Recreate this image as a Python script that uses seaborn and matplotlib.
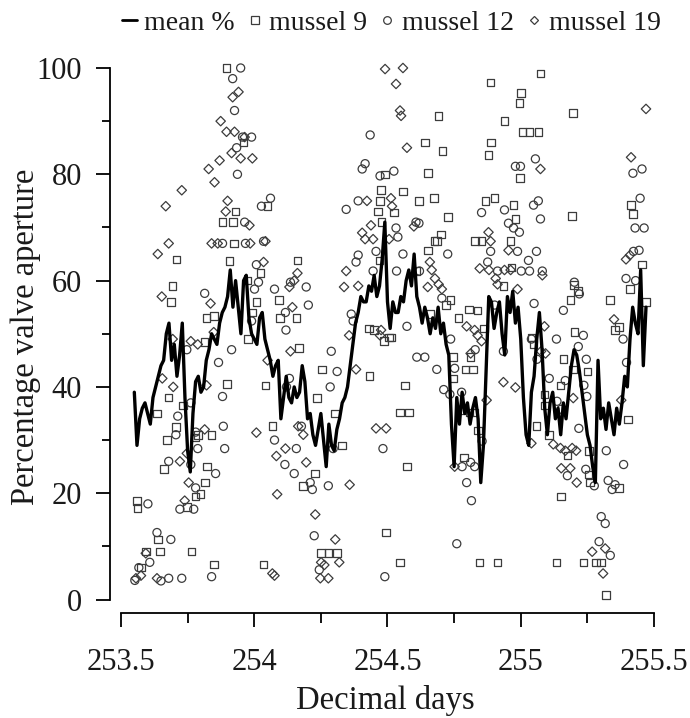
import numpy as np
import pandas as pd
import matplotlib
matplotlib.use("Agg")
import matplotlib.pyplot as plt
import seaborn as sns
from matplotlib.lines import Line2D
from matplotlib.ticker import MultipleLocator

# ---------------- data ----------------
mean_start = 253.55
mean_step = 0.01
mean_pct = [39, 29, 34, 36, 37, 35, 33, 38, 40, 42, 44, 45, 50, 52, 45, 48, 42, 46, 52, 38,
            28, 24, 35, 41, 42, 39, 40, 45, 47, 50, 49, 48, 52, 54, 55, 57, 62, 55, 60, 55,
            50, 60, 61, 53, 50, 49, 48, 53, 54, 49, 47, 45, 42, 44, 45, 34, 38, 42, 38, 37,
            40, 38, 39, 44, 41, 34, 35, 31, 29, 32, 35, 30, 25, 33, 29, 28, 32, 34, 37, 38,
            40, 44, 48, 52, 54, 57, 56, 56, 59, 58, 61, 57, 59, 64, 71, 56, 51, 56, 54, 54,
            57, 56, 60, 62, 59, 65, 57, 55, 52, 55, 53, 50, 53, 51, 55, 50, 52, 48, 46, 33,
            25, 38, 33, 39, 35, 37, 33, 36, 38, 34, 22, 29, 43, 57, 56, 51, 54, 56, 50, 46,
            57, 54, 58, 52, 55, 49, 38, 31, 29, 39, 42, 49, 54, 47, 36, 31, 37, 39, 34, 36,
            31, 37, 34, 39, 44, 47, 46, 43, 39, 35, 31, 29, 25, 22, 45, 34, 36, 32, 37, 34,
            31, 36, 33, 37, 42, 40, 49, 55, 52, 50, 62, 44, 55]

m9_day = [253.560, 253.562, 253.575, 253.593, 253.635, 253.638, 253.646, 253.661, 253.672, 253.679,
          253.687, 253.694, 253.706, 253.709, 253.732, 253.747, 253.765, 253.777, 253.780, 253.788,
          253.799, 253.814, 253.816, 253.821, 253.823, 253.840, 253.848, 253.850, 253.881, 253.896,
          253.898, 253.907, 253.920, 253.924, 253.930, 253.960, 253.975, 253.977, 253.993, 254.008,
          254.023, 254.035, 254.042, 254.050, 254.068, 254.094, 254.096, 254.158, 254.162, 254.169,
          254.184, 254.229, 254.236, 254.251, 254.255, 254.278, 254.304, 254.311, 254.330, 254.431,
          254.433, 254.450, 254.464, 254.470, 254.472, 254.476, 254.478, 254.487, 254.491, 254.495,
          254.506, 254.513, 254.524, 254.547, 254.547, 254.558, 254.565, 254.573, 254.580, 254.607,
          254.618, 254.640, 254.651, 254.653, 254.659, 254.674, 254.676, 254.685, 254.692, 254.700,
          254.707, 254.719, 254.726, 254.737, 254.745, 254.747, 254.767, 254.778, 254.786, 254.793,
          254.805, 254.807, 254.812, 254.820, 254.827, 254.829, 254.838, 254.840, 254.845, 254.853,
          254.861, 254.868, 254.879, 254.887, 254.889, 254.902, 254.913, 254.935, 254.939, 254.962,
          254.966, 254.973, 254.980, 254.995, 254.997, 255.000, 255.006, 255.033, 255.040, 255.048,
          255.059, 255.066, 255.074, 255.089, 255.092, 255.107, 255.134, 255.149, 255.151, 255.160,
          255.175, 255.186, 255.192, 255.195, 255.197, 255.200, 255.201, 255.216, 255.235, 255.250,
          255.254, 255.257, 255.261, 255.283, 255.302, 255.321, 255.336, 255.354, 255.369, 255.369,
          255.403, 255.410, 255.414, 255.421, 255.455, 255.470]
m9_pct = [18.5, 17.2, 6, 9, 35, 11.3, 9, 24.5, 30, 38,
          56, 59, 32.5, 64, 36.5, 17.4, 9, 30.5, 19.4, 31,
          19.8, 48.4, 22, 53, 25, 31, 53.3, 6.6, 71, 100,
          40.5, 63.7, 71, 67, 73, 86, 60, 49, 54, 56,
          61.4, 6.6, 40.3, 74, 32.6, 56.3, 53, 53, 63.8, 47.3,
          21.4, 23.7, 37.9, 8.7, 43.3, 8.7, 35, 8.7, 29, 51,
          42, 50.7, 73, 63.8, 75, 77, 71, 48.6, 80, 12.6,
          49.3, 49.3, 72.8, 35.2, 7, 76.8, 40.3, 25, 35.2, 61.8,
          75, 86, 80.2, 65.7, 53.7, 75.5, 67.4, 67.4, 91, 68.7,
          84.4, 55.4, 72, 56.3, 45.6, 41.6, 53, 35.6, 26.7, 43.3,
          54.6, 35.2, 45.6, 43.3, 35.2, 67.4, 54.4, 31.8, 7, 67.4,
          51, 75, 83.6, 97.3, 86, 75.5, 7, 59, 90, 67.4,
          62.5, 74.2, 71.6, 93.4, 79.3, 95.3, 88, 88, 49.3, 48,
          32.6, 88, 99, 38.6, 36.5, 30.9, 7, 40.3, 19.4, 45.2,
          27.1, 56.3, 72.1, 91.5, 43.3, 59.2, 50.3, 58, 7, 42.9,
          23.5, 28, 22, 7, 7, 0.9, 56.3, 50.7, 51.3, 21,
          33.9, 58.4, 74.2, 72.5, 63, 56]

m12_day = [253.552, 253.567, 253.601, 253.608, 253.635, 253.650, 253.679, 253.679, 253.687, 253.706,
           253.713, 253.721, 253.728, 253.747, 253.762, 253.762, 253.773, 253.780, 253.780, 253.788,
           253.814, 253.840, 253.855, 253.866, 253.881, 253.881, 253.884, 253.889, 253.915, 253.919,
           253.926, 253.934, 253.937, 253.949, 253.956, 253.964, 253.967, 253.990, 253.990, 254.001,
           254.008, 254.016, 254.027, 254.035, 254.061, 254.076, 254.076, 254.115, 254.117, 254.119,
           254.121, 254.132, 254.136, 254.150, 254.158, 254.177, 254.195, 254.203, 254.210, 254.218,
           254.225, 254.244, 254.278, 254.285, 254.289, 254.296, 254.311, 254.345, 254.364, 254.371,
           254.382, 254.390, 254.390, 254.405, 254.416, 254.435, 254.446, 254.457, 254.472, 254.483,
           254.490, 254.524, 254.532, 254.534, 254.539, 254.558, 254.573, 254.607, 254.610, 254.618,
           254.620, 254.640, 254.685, 254.704, 254.711, 254.726, 254.734, 254.737, 254.752, 254.760,
           254.778, 254.780, 254.797, 254.812, 254.815, 254.827, 254.829, 254.853, 254.855, 254.876,
           254.887, 254.902, 254.913, 254.935, 254.939, 254.954, 254.973, 254.980, 254.988, 254.995,
           254.999, 255.002, 255.029, 255.033, 255.040, 255.048, 255.050, 255.055, 255.059, 255.061,
           255.066, 255.074, 255.081, 255.107, 255.134, 255.136, 255.152, 255.160, 255.167, 255.175,
           255.201, 255.216, 255.218, 255.220, 255.235, 255.237, 255.244, 255.246, 255.248, 255.276,
           255.294, 255.302, 255.317, 255.321, 255.328, 255.336, 255.343, 255.354, 255.384, 255.386,
           255.395, 255.397, 255.421, 255.423, 255.429, 255.431, 255.444, 255.448, 255.455, 255.463]
m12_pct = [3.6, 6, 18, 7, 12.6, 3.5, 4, 26, 11.3, 31,
           34.5, 17, 4, 47, 37, 25.4, 17, 31.5, 21, 28.4,
           57.6, 4.3, 23.7, 44.6, 67, 38.2, 32.6, 28.4, 47, 98,
           92, 85, 80, 100, 87, 71, 67, 87, 52.4, 58.4,
           63, 59.7, 74, 67.4, 75.5, 58.4, 30, 25.4, 54, 50.7,
           40, 41.6, 59.7, 23.7, 28.4, 32.6, 58.8, 55.4, 22, 20.7,
           12, 5.6, 21.4, 40, 46.7, 28.4, 42.9, 73.4, 53.7, 52.4,
           63.5, 75, 64.8, 81, 82, 87.4, 61.8, 65.5, 79.7, 28.4,
           4.3, 80.6, 69.9, 61.8, 68.2, 65, 51.4, 71, 45.6, 70.8,
           61.8, 45.6, 43.3, 56.7, 39.5, 65, 38.6, 49, 43.5, 10.5,
           39, 25, 22, 25.8, 18.6, 25, 47, 72.8, 29.8, 63.5,
           65.5, 55.4, 61.8, 46.7, 73.3, 70.8, 69.9, 81.5, 65.5, 69.1,
           81.5, 61.8, 63.8, 61.8, 49, 74.2, 55.7, 82.9, 65.5, 45.2,
           75, 71.6, 61.8, 41.6, 49, 37.3, 35.8, 54.4, 41.2, 23.3,
           59.7, 47.6, 32.2, 57.5, 49.7, 40.3, 24.5, 45.2, 38.2, 21.4,
           10.9, 15.6, 14.3, 28, 22.4, 8.3, 20.7, 21.6, 49, 25.4,
           60.4, 44.6, 80.2, 65.5, 69.9, 60, 65.7, 75.5, 81, 69.9]

m19_day = [253.556, 253.575, 253.593, 253.635, 253.638, 253.653, 253.655, 253.668, 253.679, 253.694,
           253.696, 253.721, 253.728, 253.739, 253.747, 253.754, 253.762, 253.788, 253.814, 253.821,
           253.829, 253.836, 253.840, 253.848, 253.851, 253.863, 253.870, 253.874, 253.893, 253.896,
           253.900, 253.915, 253.919, 253.926, 253.941, 253.949, 253.964, 253.982, 253.985, 253.993,
           254.008, 254.035, 254.042, 254.050, 254.068, 254.076, 254.083, 254.086, 254.117, 254.132,
           254.136, 254.143, 254.150, 254.162, 254.165, 254.184, 254.195, 254.229, 254.248, 254.251,
           254.263, 254.278, 254.304, 254.319, 254.337, 254.345, 254.356, 254.358, 254.382, 254.390,
           254.405, 254.416, 254.423, 254.438, 254.446, 254.457, 254.472, 254.476, 254.491, 254.495,
           254.506, 254.513, 254.517, 254.532, 254.547, 254.551, 254.558, 254.573, 254.599, 254.651,
           254.659, 254.666, 254.678, 254.692, 254.704, 254.752, 254.797, 254.812, 254.827, 254.838,
           254.846, 254.853, 254.872, 254.879, 254.881, 254.887, 254.906, 254.913, 254.935, 254.939,
           254.954, 254.962, 254.980, 254.988, 255.040, 255.074, 255.076, 255.081, 255.089, 255.093,
           255.122, 255.149, 255.152, 255.167, 255.186, 255.193, 255.197, 255.208, 255.210, 255.268,
           255.309, 255.317, 255.350, 255.377, 255.395, 255.410, 255.414, 255.470]
m19_pct = [4, 4.5, 8.7, 4, 65, 57, 41.6, 74, 67, 49,
           40, 26, 77, 18.6, 27.5, 22, 48.6, 48, 32, 40.3,
           81, 55.7, 67, 50.3, 78.5, 67, 82.6, 90, 73, 88,
           75, 84, 94.5, 88, 95.5, 83, 87, 70.4, 67, 83,
           31.4, 63.5, 67.4, 45, 4.9, 4.5, 27, 19.8, 28.4, 58.8,
           46.7, 55, 60, 61.4, 32.6, 31, 25.8, 16, 4, 7,
           6.5, 4, 11.3, 7, 58.8, 61.8, 49.7, 21.6, 43.3, 59,
           69, 67.8, 75, 70.4, 67.8, 32.2, 49.7, 50.7, 99.8, 32.2,
           67.8, 75.5, 74, 97, 92, 91, 100, 85, 70.2, 58.8,
           63.5, 62, 60.4, 59.3, 58.4, 25, 51.4, 46.3, 50.7, 49.7,
           62.3, 48.6, 37.5, 69.1, 62, 67.4, 60.4, 59.3, 40.9, 62,
           65.7, 62, 39.9, 58.4, 29.4, 81, 46.7, 61, 51.4, 46.3,
           29.2, 28.5, 24.7, 28, 24.7, 28.5, 37.9, 28, 22, 9,
           4.9, 9.6, 52.7, 37.5, 64, 64.8, 83.2, 92.3]

xtick_vals = [253.5, 254, 254.5, 255, 255.5]
xtick_labels = ["253.5", "254", "254.5", "255", "255.5"]
ytick_vals = [0, 20, 40, 60, 80, 100]
legend_labels = ["mean %", "mussel 9", "mussel 12", "mussel 19"]

mean_day = mean_start + mean_step * np.arange(len(mean_pct))
df_mean = pd.DataFrame({"day": mean_day, "pct": mean_pct})
df9 = pd.DataFrame({"day": m9_day, "pct": m9_pct})
df12 = pd.DataFrame({"day": m12_day, "pct": m12_pct})
df19 = pd.DataFrame({"day": m19_day, "pct": m19_pct})

# ---------------- style ----------------
sns.set_theme(style="ticks")
plt.rcParams["font.family"] = ["Liberation Serif", "DejaVu Serif"]
plt.rcParams["axes.linewidth"] = 1.3

fig = plt.figure(figsize=(6.9, 7.18), dpi=100)
ax = fig.add_axes([0.1594, 0.1462, 0.7971, 0.7702])

edge = "#3c3c3c"
sns.scatterplot(data=df9, x="day", y="pct", marker="s", s=30, facecolors="none",
                edgecolor=edge, linewidth=0.9, ax=ax, zorder=2)
sns.scatterplot(data=df12, x="day", y="pct", marker="o", s=34, facecolors="none",
                edgecolor=edge, linewidth=0.9, ax=ax, zorder=2)
sns.scatterplot(data=df19, x="day", y="pct", marker="D", s=23, facecolors="none",
                edgecolor=edge, linewidth=0.9, ax=ax, zorder=2)
sns.lineplot(data=df_mean, x="day", y="pct", color="black", linewidth=2.4, ax=ax, zorder=3)

ax.set_xlim(253.4587, 255.5225)
ax.set_ylim(-2.54, 101.5)
ax.spines["top"].set_visible(False)
ax.spines["right"].set_visible(False)
ax.spines["left"].set_bounds(0, 100)
ax.spines["bottom"].set_bounds(253.5, 255.5)
for sp in ("left", "bottom"):
    ax.spines[sp].set_color("black")

ax.set_xticks(xtick_vals)
ax.set_xticklabels(xtick_labels)
ax.xaxis.set_minor_locator(MultipleLocator(0.25))
ax.set_yticks(ytick_vals)
ax.yaxis.set_minor_locator(MultipleLocator(10))
ax.tick_params(axis="both", which="major", length=10, width=1.3, labelsize=22,
               color="black", labelcolor="#1a1a1a")
ax.tick_params(axis="x", which="major", pad=15)
ax.tick_params(axis="y", which="major", pad=10)
ax.tick_params(axis="x", which="minor", length=7, width=1.3, color="black")
ax.tick_params(axis="y", which="minor", length=6, width=1.3, color="black")

ax.set_xlabel("Decimal days", fontsize=23.5, color="#1a1a1a", labelpad=6)
ax.set_ylabel("Percentage valve aperture", fontsize=23.5, color="#1a1a1a", labelpad=-3)

handles = [
    Line2D([], [], color="black", lw=2.0),
    Line2D([], [], marker="s", ls="none", mfc="none", mec=edge, ms=5.5, mew=0.9),
    Line2D([], [], marker="o", ls="none", mfc="none", mec=edge, ms=5.5, mew=0.9),
    Line2D([], [], marker="D", ls="none", mfc="none", mec=edge, ms=4.5, mew=0.9),
]
fig.legend(handles, legend_labels, loc="center", bbox_to_anchor=(0.567, 1 - 23 / 718),
           ncol=4, frameon=False, fontsize=20, handlelength=0.55, handletextpad=0.25,
           columnspacing=0.45, labelcolor="#1a1a1a", borderpad=0, borderaxespad=0)

fig.savefig("out.png", dpi=100)
